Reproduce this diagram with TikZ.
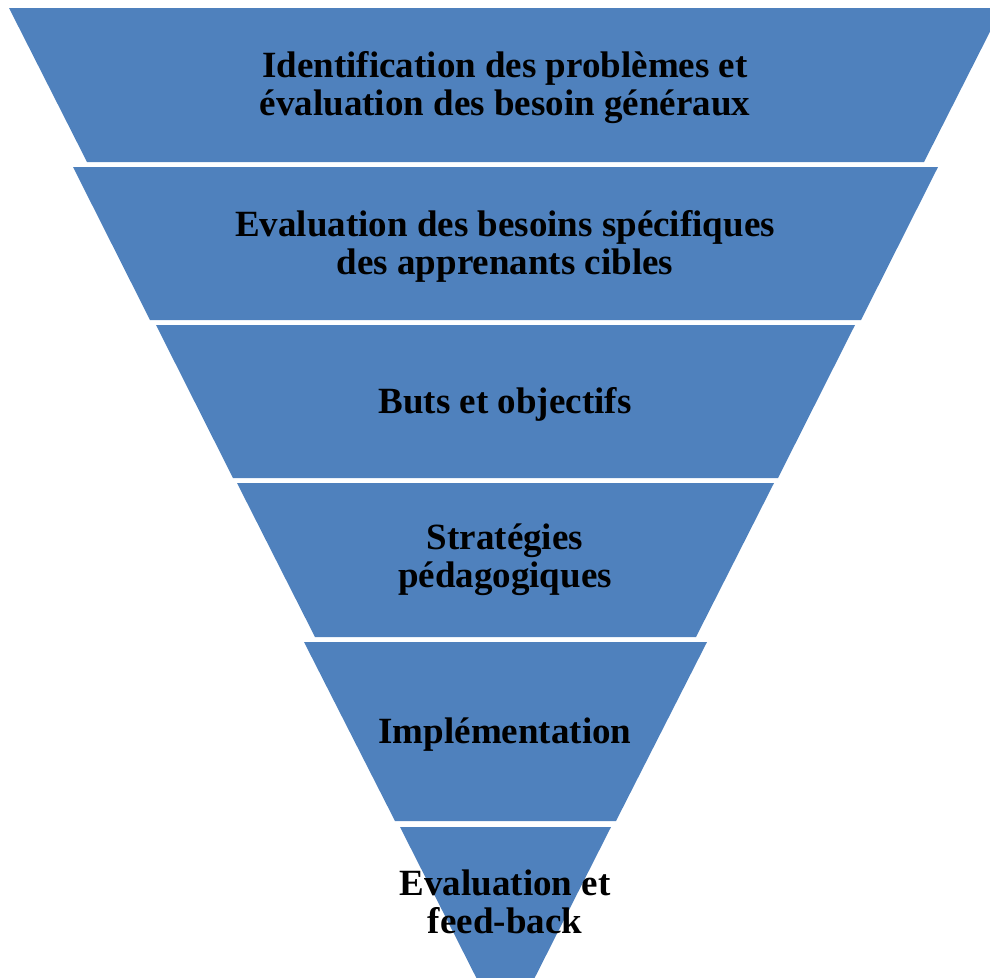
\documentclass[tikz,border=0pt]{standalone}
\usepackage{fontspec}
\setmainfont{Liberation Serif}
\definecolor{layerblue}{RGB}{79,129,189}
\begin{document}
\begin{tikzpicture}[x=1pt,y=-1pt,
  layer/.style={fill=layerblue,draw=none},
  lbl/.style={anchor=base,align=center,inner sep=0pt,font=\fontsize{37}{38}\selectfont\bfseries,text=black}]
\useasboundingbox (0,0) rectangle (990,977);
\clip (0,0) rectangle (990,977);
\fill[layer] (9,8) -- (1002,8) -- (924,162) -- (87,162) -- cycle;
\fill[layer] (73,167) -- (938,167) -- (861,320) -- (150,320) -- cycle;
\fill[layer] (156,325) -- (855,325) -- (778,478) -- (233,478) -- cycle;
\fill[layer] (237,483) -- (774,483) -- (696,637) -- (315,637) -- cycle;
\fill[layer] (304,642) -- (707,642) -- (616,821) -- (395,821) -- cycle;
\fill[layer] (400,827) -- (611,827) -- (505.5,1035.5) -- cycle;
\node[lbl] (t1) at (505,115) {Identification des problèmes et\\évaluation des besoin généraux};
\node[lbl] (t2) at (505,274) {Evaluation des besoins spécifiques\\des apprenants cibles};
\node[lbl] (t3) at (505,413) {Buts et objectifs};
\node[lbl] (t4) at (505,587) {Stratégies\\pédagogiques};
\node[lbl] (t5) at (505,743) {Implémentation};
\node[lbl] (t6) at (505,933) {Evaluation et\\feed-back};
\end{tikzpicture}
\end{document}
